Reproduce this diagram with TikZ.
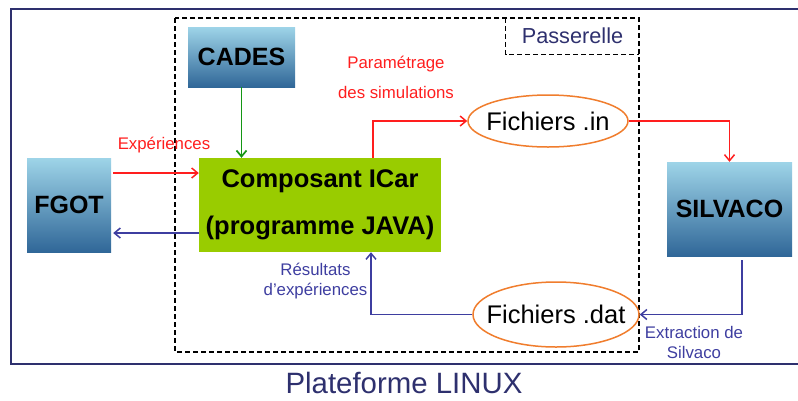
\documentclass[tikz,border=0pt]{standalone}
\usepackage{fontspec}
\setmainfont{Liberation Sans}
\usetikzlibrary{arrows.meta,positioning,calc,shapes}
\definecolor{navy}{RGB}{46,48,110}
\definecolor{linkblue}{RGB}{62,62,160}
\definecolor{redline}{RGB}{255,30,30}
\definecolor{greenline}{RGB}{20,150,20}
\definecolor{icargreen}{RGB}{153,204,0}
\definecolor{boxtop}{RGB}{158,212,232}
\definecolor{boxbot}{RGB}{48,103,152}
\definecolor{ellorange}{RGB}{240,125,45}

\begin{document}
\begin{tikzpicture}[x=1pt,y=-1pt,
  toolbox/.style={rectangle,top color=boxtop,bottom color=boxbot,draw=none,inner sep=0pt,
                  font=\fontsize{25}{28}\selectfont\bfseries},
  filebox/.style={ellipse,draw=ellorange,line width=1.5pt,fill=white,inner xsep=-40pt,
                  inner ysep=-10pt,font=\fontsize{25.5}{28}\selectfont},
  redarr/.style={draw=redline,line width=1.5pt,-{Straight Barb[length=6pt,width=10pt]}},
  bluearr/.style={draw=linkblue,line width=1.5pt,-{Straight Barb[length=6pt,width=10pt]}},
  greenarr/.style={draw=greenline,line width=1.7pt,-{Straight Barb[length=6pt,width=10pt]}},
  redlabel/.style={text=redline,align=center,font=\fontsize{16.8}{30}\selectfont},
  bluelabel/.style={text=linkblue,align=center,font=\fontsize{16.8}{20}\selectfont},
  bridge/.style={draw=black,line width=1.3pt,dash pattern=on 5pt off 3pt}
]
  \useasboundingbox (0,0) rectangle (798,400);
  \draw[navy,line width=1.8pt] (11,9) rectangle (806,364);
  \draw[bridge] (175,18) rectangle (639,352);

  \node[inner sep=0pt,minimum width=133pt,minimum height=36pt,text=navy,
        font=\fontsize{21.7}{24}\selectfont] (pass) at (572.5,36) {Passerelle};
  \draw[bridge] (pass.north west) -- (pass.south west) -- (pass.south east);

  \node[toolbox,minimum width=107pt,minimum height=60pt] (cades) at (241.5,57) {CADES};
  \node[toolbox,minimum width=84pt,minimum height=94pt] (fgot) at (69,205) {FGOT};
  \node[toolbox,minimum width=125pt,minimum height=94pt] (silv) at (729.5,209) {SILVACO};
  \node[rectangle,fill=icargreen,inner sep=0pt,minimum width=242pt,minimum height=94pt,
        align=center,font=\fontsize{25.5}{47}\selectfont\bfseries] (comp) at (320,205)
        {Composant ICar\\(programme JAVA)};
  \node[filebox,minimum width=160pt,minimum height=52pt] (fin) at (548,121) {Fichiers .in};
  \node[filebox,minimum width=166pt,minimum height=65pt] (fdat) at (556,314.5) {Fichiers .dat};

  \node[redlabel] (lexp) at (164,145) {Expériences};
  \node[redlabel] (lparam) at (396,77) {Paramétrage\\des simulations};
  \node[bluelabel] (lres) at (315.5,281) {Résultats\\d’expériences};
  \node[bluelabel] (lextr) at (694,342) {Extraction de\\Silvaco};
  \node[text=navy,font=\fontsize{29.4}{32}\selectfont] (lplat) at (404,383) {Plateforme LINUX};

  \draw[greenarr] (cades.south) -- (cades.south |- comp.north);
  \draw[redarr] ([yshift=32pt,xshift=2pt]fgot.east) -- ([yshift=32pt]comp.west);
  \draw[bluearr] ([yshift=-28pt]comp.west) -- ([yshift=-28pt,xshift=2pt]fgot.east);
  \draw[redarr] ([xshift=53pt]comp.north) |- (fin.west);
  \draw[redarr] (fin.east) -| (silv.north);
  \draw[bluearr] ([xshift=12.5pt,yshift=-4pt]silv.south) |- (fdat.east);
  \draw[bluearr] (fdat.west) -| ([xshift=51pt]comp.south);
\end{tikzpicture}
\end{document}
